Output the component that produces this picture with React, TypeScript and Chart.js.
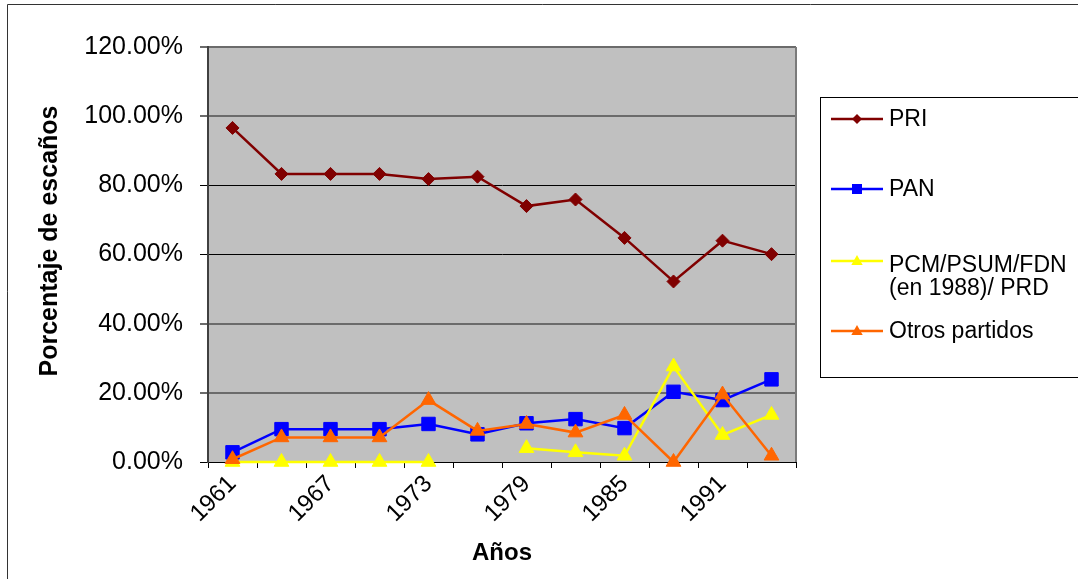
import React, { useEffect, useRef } from 'react';
import { Chart, registerables } from 'chart.js';

Chart.register(...registerables);

const years = ['1961', '1964', '1967', '1970', '1973', '1976', '1979', '1982', '1985', '1988', '1991', '1994'];
const priValues = [96.6, 83.3, 83.3, 83.3, 81.8, 82.5, 74.0, 75.9, 64.8, 52.2, 64.0, 60.1];
const panValues = [2.8, 9.5, 9.5, 9.5, 11.0, 8.0, 11.2, 12.4, 9.8, 20.3, 17.9, 23.9];
const pcmValues = [0, 0, 0, 0, 0, null, 4.0, 2.8, 1.8, 27.6, 7.8, 13.6];
const otrosValues = [0.8, 7.1, 7.1, 7.1, 17.9, 9.0, 11.0, 8.5, 13.6, 0, 19.5, 1.8];
const seriesNames = ['PRI', 'PAN', 'PCM/PSUM/FDN\n(en 1988)/ PRD', 'Otros partidos'];
const yTitle = 'Porcentaje de escaños';
const xTitle = 'Años';

const FONT = "'Liberation Sans', Arial, sans-serif";

const bgPlugin = {
  id: 'bgPlugin',
  beforeDraw(chart: any) {
    const { ctx, chartArea } = chart;
    ctx.save();
    ctx.fillStyle = '#ffffff';
    ctx.fillRect(0, 0, chart.width, chart.height);
    ctx.fillStyle = '#C0C0C0';
    ctx.fillRect(chartArea.left, chartArea.top, chartArea.right - chartArea.left, chartArea.bottom - chartArea.top);
    ctx.restore();
  },
  afterDraw(chart: any) {
    const { ctx, chartArea } = chart;
    ctx.save();
    // right border of plot area
    ctx.strokeStyle = '#7a7a7a';
    ctx.lineWidth = 2;
    ctx.beginPath();
    ctx.moveTo(chartArea.right, chartArea.top);
    ctx.lineTo(chartArea.right, chartArea.bottom);
    ctx.stroke();
    // outer frame
    ctx.strokeStyle = '#333333';
    ctx.lineWidth = 1;
    ctx.beginPath();
    ctx.moveTo(7.5, chart.height);
    ctx.lineTo(7.5, 4.5);
    ctx.lineTo(chart.width, 4.5);
    ctx.stroke();
    // y axis title
    ctx.translate(50, 241);
    ctx.rotate(-Math.PI / 2);
    ctx.fillStyle = '#000';
    ctx.font = `bold 25px ${FONT}`;
    ctx.textAlign = 'center';
    ctx.textBaseline = 'middle';
    ctx.fillText(yTitle, 0, 0);
    ctx.restore();
  },
};

function drawMarker(ctx: CanvasRenderingContext2D, style: string, x: number, y: number, r: number) {
  ctx.beginPath();
  if (style === 'rectRot') {
    ctx.moveTo(x, y - r);
    ctx.lineTo(x + r, y);
    ctx.lineTo(x, y + r);
    ctx.lineTo(x - r, y);
  } else if (style === 'rect') {
    ctx.rect(x - r, y - r, 2 * r, 2 * r);
  } else {
    ctx.moveTo(x, y - r);
    ctx.lineTo(x + r * 0.95, y + r * 0.65);
    ctx.lineTo(x - r * 0.95, y + r * 0.65);
  }
  ctx.closePath();
  ctx.fill();
}

const legendPlugin = {
  id: 'customLegend',
  afterDraw(chart: any) {
    const { ctx } = chart;
    const itemY = [119, 189, 261, 331];
    const markerR = [5, 5, 6, 6];
    ctx.save();
    ctx.strokeStyle = '#000';
    ctx.lineWidth = 1;
    ctx.strokeRect(820.5, 97.5, 300, 280);
    ctx.font = `23px ${FONT}`;
    ctx.textBaseline = 'middle';
    ctx.textAlign = 'left';
    chart.data.datasets.forEach((ds: any, i: number) => {
      const y = itemY[i];
      ctx.strokeStyle = ds.borderColor;
      ctx.lineWidth = 2.5;
      ctx.beginPath();
      ctx.moveTo(831, y);
      ctx.lineTo(883, y);
      ctx.stroke();
      ctx.fillStyle = ds.pointBackgroundColor;
      drawMarker(ctx, ds.pointStyle, 857, y, markerR[i]);
      ctx.fillStyle = '#000';
      const lines = String(ds.label).split('\n');
      if (lines.length === 1) {
        ctx.fillText(lines[0], 889, y + 1);
      } else {
        lines.forEach((t: string, k: number) => ctx.fillText(t, 889, y + 5 + k * 23));
      }
    });
    ctx.restore();
  },
};

const gridGray = [120, 100, 40, 20];

export default function App() {
  const ref = useRef<HTMLCanvasElement>(null);
  useEffect(() => {
    document.body.style.margin = '0';
    const canvas = ref.current!;
    const mk = (label: string, data: any[], color: string, style: string, radius: number, order: number) => ({
      label,
      data,
      borderColor: color,
      backgroundColor: color,
      pointBackgroundColor: color,
      pointBorderColor: color,
      pointBorderWidth: 1,
      pointStyle: style,
      pointRadius: radius,
      borderWidth: 2.5,
      tension: 0,
      spanGaps: false,
      clip: false,
      order,
    });
    const chart = new Chart(canvas, {
      type: 'line',
      data: {
        labels: years,
        datasets: [
          mk(seriesNames[0], priValues, '#800000', 'rectRot', 6.5, 3),
          mk(seriesNames[1], panValues, '#0000FF', 'rect', 9.5, 2),
          mk(seriesNames[2], pcmValues, '#FFFF00', 'triangle', 8.5, 1),
          mk(seriesNames[3], otrosValues, '#FF6600', 'triangle', 8.5, 0),
        ] as any,
      },
      options: {
        responsive: false,
        animation: false,
        events: [],
        layout: { padding: { left: 0, right: 282, top: 47, bottom: 0 } },
        plugins: {
          legend: { display: false },
          tooltip: { enabled: false },
        },
        scales: {
          x: {
            type: 'category',
            offset: true,
            grid: { offset: true, drawOnChartArea: false, drawTicks: true, tickLength: 6, color: '#000', lineWidth: 1 },
            border: { display: true, color: '#000', width: 1 },
            ticks: {
              autoSkip: false,
              maxRotation: 45,
              minRotation: 45,
              padding: 2,
              color: '#000',
              font: { family: FONT, size: 24 },
              callback: (_v: any, i: number) => (i % 2 === 0 ? years[i] : ''),
            },
            title: {
              display: true,
              text: xTitle,
              color: '#000',
              font: { family: FONT, size: 24, weight: 'bold' },
              padding: { top: 0, bottom: 11 },
            },
            afterFit: (s: any) => {
              s.height = 117;
            },
          },
          y: {
            min: 0,
            max: 120,
            ticks: {
              stepSize: 20,
              padding: 17,
              color: '#000',
              font: { family: FONT, size: 25 },
              callback: (v: any) => Number(v).toFixed(2) + '%',
            },
            grid: {
              color: (c: any) => (gridGray.includes(c.tick?.value) ? '#6b6b6b' : '#000'),
              lineWidth: (c: any) => (gridGray.includes(c.tick?.value) ? 2 : 1),
              tickLength: 8,
              drawTicks: true,
            },
            border: { display: true, color: '#404040', width: 2 },
            title: { display: false },
            afterFit: (s: any) => {
              s.width = 208;
            },
          },
        },
      } as any,
      plugins: [bgPlugin, legendPlugin],
    });
    return () => chart.destroy();
  }, []);
  return (
    <div style={{ width: 1078, height: 579, position: 'relative' }}>
      <canvas ref={ref} width={1078} height={579} style={{ display: 'block' }} />
    </div>
  );
}
